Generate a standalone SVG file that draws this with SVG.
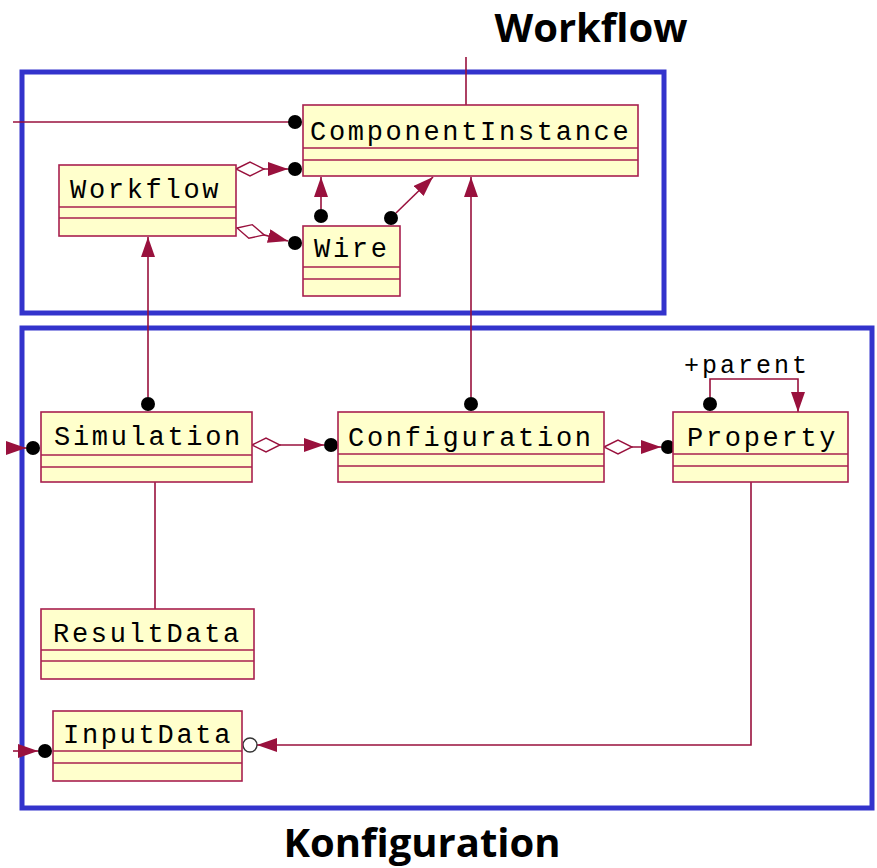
<svg xmlns="http://www.w3.org/2000/svg" width="877" height="868" viewBox="0 0 877 868">
<style>
.frame{fill:none;stroke:#3333cc;stroke-width:5}
.title{font-family:"Open Sans","Liberation Sans",sans-serif;font-weight:bold;font-size:40px;fill:#000;text-anchor:middle}
.box{fill:#ffffcc;stroke:#a8204f;stroke-width:1.6}
.div{stroke:#a8204f;stroke-width:1.6}
.lbl{font-family:"Liberation Mono","Courier New",monospace;font-size:27px;letter-spacing:2.7px;fill:#000}
.con{fill:none;stroke:#99113d;stroke-width:1.6}
.dot{fill:#000}
</style>
<defs>
<marker id="arrow" viewBox="0 0 20 14" refX="20" refY="7" markerWidth="20" markerHeight="14" markerUnits="userSpaceOnUse" orient="auto">
<path d="M0,0 L20,7 L0,14 z" fill="#99113d"/>
</marker>
<marker id="diamond" viewBox="-1 -1 30 16" refX="0" refY="7" markerWidth="30" markerHeight="16" markerUnits="userSpaceOnUse" orient="auto">
<path d="M0,7 L14,0 L28,7 L14,14 z" fill="#fff" stroke="#99113d" stroke-width="1.4"/>
</marker>
</defs>
<rect width="877" height="868" fill="#fff"/>

<g id="frames">
<rect class="frame" x="22" y="72" width="642" height="241"/>
<rect class="frame" x="22" y="328" width="850" height="480"/>
<text class="title" x="591" y="42">Workflow</text>
<text class="title" x="422" y="857">Konfiguration</text>
</g>

<g id="connectors">
<line class="con" x1="13" y1="122" x2="290" y2="122"/>
<circle class="dot" cx="295" cy="122" r="7"/>
<line class="con" x1="466" y1="57" x2="466" y2="105"/>
<path class="con" d="M236,169 L288,169" marker-start="url(#diamond)" marker-end="url(#arrow)"/>
<circle class="dot" cx="295" cy="169" r="7"/>
<path class="con" d="M237,228 L288,241" marker-start="url(#diamond)" marker-end="url(#arrow)"/>
<circle class="dot" cx="295" cy="243" r="7"/>
<path class="con" d="M321,209 L321,177" marker-end="url(#arrow)"/>
<circle class="dot" cx="321" cy="216" r="7"/>
<path class="con" d="M396,213 L433,177" marker-end="url(#arrow)"/>
<circle class="dot" cx="391" cy="218" r="7"/>
<path class="con" d="M471,397 L471,177" marker-end="url(#arrow)"/>
<circle class="dot" cx="471" cy="404" r="7"/>
<path class="con" d="M148,397 L148,237" marker-end="url(#arrow)"/>
<circle class="dot" cx="148" cy="404" r="7"/>
<path class="con" d="M252,445 L324,445" marker-start="url(#diamond)" marker-end="url(#arrow)"/>
<circle class="dot" cx="331" cy="445" r="7"/>
<path class="con" d="M604,447 L661,447" marker-start="url(#diamond)" marker-end="url(#arrow)"/>
<circle class="dot" cx="668" cy="447" r="7"/>
<path class="con" d="M710,397 L710,379 L798,379 L798,412" marker-end="url(#arrow)"/>
<circle class="dot" cx="710" cy="404" r="7"/>
<text class="lbl" x="684" y="373" style="font-size:25px;letter-spacing:3px">+parent</text>
<path class="con" d="M13,448 L26,448" marker-end="url(#arrow)"/>
<circle class="dot" cx="33" cy="448" r="7"/>
<path class="con" d="M13,751 L38,751" marker-end="url(#arrow)"/>
<circle class="dot" cx="45" cy="751" r="7"/>
<path class="con" d="M751,482 L751,745 L257,745" marker-end="url(#arrow)"/>
<circle cx="250" cy="745" r="7" fill="#fff" stroke="#333" stroke-width="1.4"/>
<line class="con" x1="155" y1="482" x2="155" y2="609"/>
</g>

<g id="ComponentInstance">
<rect class="box" x="303" y="105" width="335" height="71"/>
<line class="div" x1="303" y1="148" x2="638" y2="148"/>
<line class="div" x1="303" y1="160" x2="638" y2="160"/>
<text class="lbl" x="310" y="139.5">ComponentInstance</text>
</g>
<g id="Workflow">
<rect class="box" x="59" y="165" width="177" height="71"/>
<line class="div" x1="59" y1="207" x2="236" y2="207"/>
<line class="div" x1="59" y1="218" x2="236" y2="218"/>
<text class="lbl" x="70" y="198">Workflow</text>
</g>
<g id="Wire">
<rect class="box" x="303" y="226" width="97" height="70"/>
<line class="div" x1="303" y1="267" x2="400" y2="267"/>
<line class="div" x1="303" y1="279" x2="400" y2="279"/>
<text class="lbl" x="314" y="257">Wire</text>
</g>
<g id="Simulation">
<rect class="box" x="41" y="412" width="211" height="70"/>
<line class="div" x1="41" y1="455" x2="252" y2="455"/>
<line class="div" x1="41" y1="467" x2="252" y2="467"/>
<text class="lbl" x="54" y="445">Simulation</text>
</g>
<g id="Configuration">
<rect class="box" x="338" y="412" width="266" height="70"/>
<line class="div" x1="338" y1="454" x2="604" y2="454"/>
<line class="div" x1="338" y1="466" x2="604" y2="466"/>
<text class="lbl" x="348" y="446">Configuration</text>
</g>
<g id="Property">
<rect class="box" x="673" y="412" width="175" height="70"/>
<line class="div" x1="673" y1="454" x2="848" y2="454"/>
<line class="div" x1="673" y1="466" x2="848" y2="466"/>
<text class="lbl" x="687" y="446">Property</text>
</g>
<g id="ResultData">
<rect class="box" x="41" y="609" width="213" height="70"/>
<line class="div" x1="41" y1="650" x2="254" y2="650"/>
<line class="div" x1="41" y1="661" x2="254" y2="661"/>
<text class="lbl" x="53" y="642">ResultData</text>
</g>
<g id="InputData">
<rect class="box" x="53" y="711" width="189" height="70"/>
<line class="div" x1="53" y1="751" x2="242" y2="751"/>
<line class="div" x1="53" y1="763" x2="242" y2="763"/>
<text class="lbl" x="63" y="743">InputData</text>
</g>
</svg>
